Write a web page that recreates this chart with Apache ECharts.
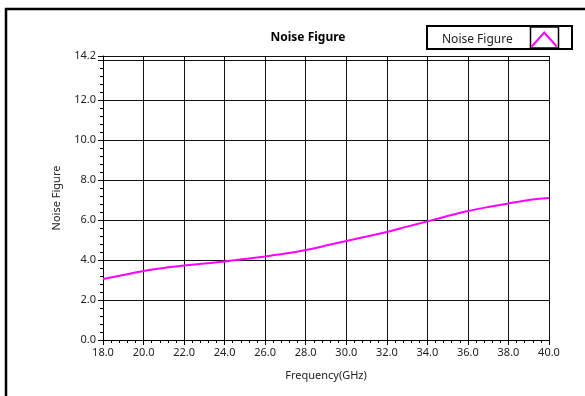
<!DOCTYPE html>
<html>
<head>
<meta charset="utf-8">
<script src="https://cdn.jsdelivr.net/npm/echarts@6/dist/echarts.min.js"></script>
<style>html,body{margin:0;padding:0;background:#fff;}#c{width:585px;height:396px;}</style>
</head>
<body>
<div id="c"></div>
<script>
const chartTitle = 'Noise Figure';
const seriesName = 'Noise Figure';
const xAxisName = 'Frequency(GHz)';
const yAxisName = 'Noise Figure';
const frequency = [18,19,20,21,22,23,24,25,26,27,28,29,30,31,32,33,34,35,36,37,38,39,40];
const noiseFigure = [3.05,3.25,3.45,3.6,3.72,3.82,3.92,4.05,4.18,4.32,4.5,4.72,4.95,5.17,5.4,5.67,5.93,6.2,6.45,6.65,6.83,7.0,7.1];

const FONT = 'Noto Sans';
const chart = echarts.init(document.getElementById('c'), null, {renderer: 'canvas'});
chart.setOption({
  animation: false,
  backgroundColor: '#fff',
  title: {
    text: chartTitle, left: 303, top: 27, textAlign: 'center',
    textStyle: {fontFamily: FONT, fontSize: 12, fontWeight: 'bold', color: '#000'}
  },
  legend: {
    left: 442, top: 30,
    align: 'right',
    itemWidth: 25, itemHeight: 14,
    padding: 0,
    textStyle: {fontFamily: FONT, fontSize: 12, color: '#222', padding: [0, 14, 0, 0]},
    data: [{
      name: seriesName,
      icon: 'path://M0,14 L12.5,0 L25,14',
      itemStyle: {color: 'none', borderColor: '#ff00ff', borderWidth: 2}
    }]
  },
  grid: {left: 103, right: 36, top: 56, bottom: 56},
  xAxis: {
    type: 'value', min: 18, max: 40, interval: 2,
    name: xAxisName, nameLocation: 'middle', nameGap: 30,
    nameTextStyle: {fontFamily: FONT, fontSize: 11, color: '#222'},
    axisLine: {show: true, lineStyle: {color: '#000', width: 1}},
    axisTick: {show: true, length: 5, lineStyle: {color: '#000'}},
    minorTick: {show: true, splitNumber: 5, length: 3, lineStyle: {color: '#000'}},
    axisLabel: {fontFamily: FONT, fontSize: 11, color: '#222', margin: 7,
      formatter: v => v.toFixed(1)},
    splitLine: {show: true, lineStyle: {color: '#111', width: 1}}
  },
  yAxis: {
    type: 'value', min: 0, max: 14.2, interval: 2,
    name: yAxisName, nameLocation: 'middle', nameGap: 41, nameRotate: 90,
    nameTextStyle: {fontFamily: FONT, fontSize: 11, color: '#222'},
    axisLine: {show: true, lineStyle: {color: '#000', width: 1}},
    axisTick: {show: true, length: 5, lineStyle: {color: '#000'}},
    minorTick: {show: true, splitNumber: 5, length: 3, lineStyle: {color: '#000'}},
    axisLabel: {fontFamily: FONT, fontSize: 11, color: '#222', margin: 7,
      formatter: v => (Math.abs(v - 14) < 1e-9 ? '' : v.toFixed(1))},
    splitLine: {show: true, lineStyle: {color: '#111', width: 1}}
  },
  graphic: [
    {type: 'rect', shape: {x: 6, y: 9, width: 700, height: 500}, silent: true,
     style: {fill: 'none', stroke: '#000', lineWidth: 2.5}},
    {type: 'rect', shape: {x: 427, y: 26, width: 145, height: 23}, silent: true,
     style: {fill: 'none', stroke: '#000', lineWidth: 2}},
    {type: 'rect', shape: {x: 530.5, y: 27, width: 28, height: 21}, silent: true,
     style: {fill: 'none', stroke: '#000', lineWidth: 1.5}}
  ],
  series: [{
    name: seriesName, type: 'line',
    data: frequency.map((f, i) => [f, noiseFigure[i]]),
    smooth: 0.3, showSymbol: false,
    lineStyle: {color: '#ff00ff', width: 2},
    itemStyle: {color: '#ff00ff'}
  }]
});
</script>
</body>
</html>
